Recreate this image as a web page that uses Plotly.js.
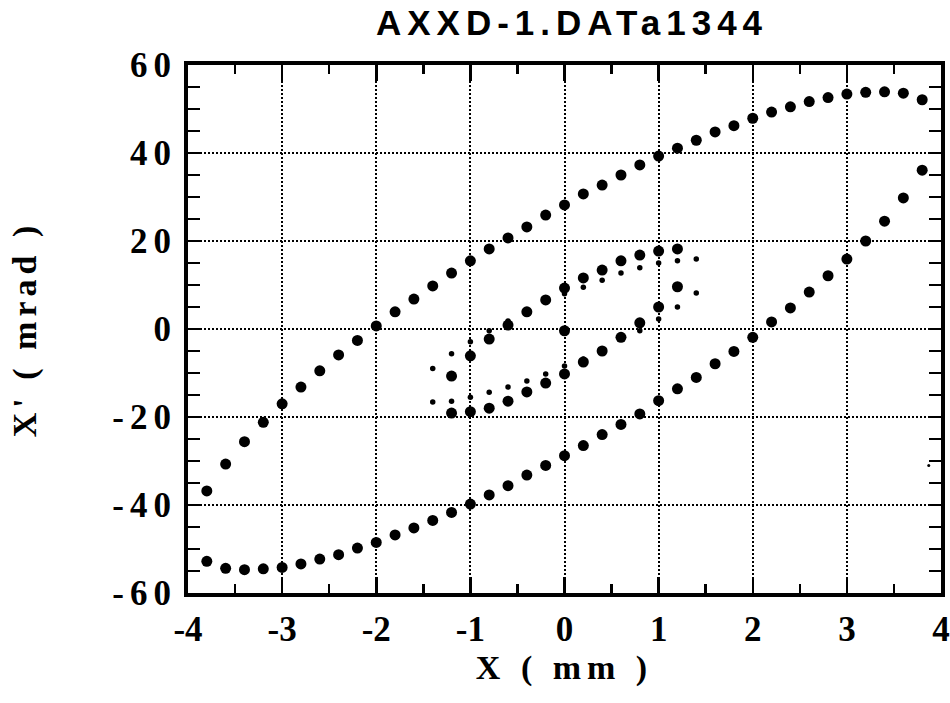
<!DOCTYPE html>
<html>
<head>
<meta charset="utf-8">
<script src="https://cdn.plot.ly/plotly-3.0.1.min.js"></script>
<style>
  html, body { margin: 0; padding: 0; background: #fff; }
  #chart { width: 950px; height: 703px; }
  .gtitle { letter-spacing: 6px; }
  .ytick text { letter-spacing: 6px; }
  .xtitle { letter-spacing: 6px; }
  .ytitle { letter-spacing: 5px; }
</style>
</head>
<body>
<div id="chart"></div>
<script>
// Outer ellipse (large dots)
const outerUpperX = [-3.8,-3.6,-3.4,-3.2,-3.0,-2.8,-2.6,-2.4,-2.2,-2.0,-1.8,-1.6,-1.4,-1.2,-1.0,-0.8,-0.6,-0.4,-0.2,0.0,0.2,0.4,0.6,0.8,1.0,1.2,1.4,1.6,1.8,2.0,2.2,2.4,2.6,2.8,3.0,3.2,3.4,3.6,3.8];
const outerUpperY = [-36.8,-30.7,-25.6,-21.2,-17.0,-13.2,-9.5,-5.9,-2.6,0.7,3.9,6.8,9.8,12.7,15.5,18.2,20.7,23.2,25.9,28.2,30.7,32.7,35.0,37.3,39.3,41.1,42.9,44.8,46.2,47.9,49.3,50.5,51.7,52.6,53.4,53.8,53.9,53.6,52.1];
const outerLowerX = [-3.8,-3.6,-3.4,-3.2,-3.0,-2.8,-2.6,-2.4,-2.2,-2.0,-1.8,-1.6,-1.4,-1.2,-1.0,-0.8,-0.6,-0.4,-0.2,0.0,0.2,0.4,0.6,0.8,1.0,1.2,1.4,1.6,1.8,2.0,2.2,2.4,2.6,2.8,3.0,3.2,3.4,3.6,3.8];
const outerLowerY = [-52.8,-54.4,-54.7,-54.5,-54.2,-53.4,-52.3,-51.3,-49.8,-48.5,-46.8,-45.2,-43.5,-41.7,-39.8,-37.7,-35.6,-33.2,-31.0,-28.8,-26.5,-24.0,-21.7,-19.3,-16.3,-13.6,-11.0,-7.9,-5.1,-1.9,1.6,4.8,8.4,12.1,15.9,20.0,24.5,29.8,36.1];

// Inner ellipse (large dots)
const innerUpperX = [-1.2,-1.0,-0.8,-0.6,-0.4,-0.2,0.0,0.2,0.4,0.6,0.8,1.0,1.2];
const innerUpperY = [-10.7,-6.1,-2.3,0.9,3.9,6.6,9.3,11.6,13.4,15.5,16.8,17.7,18.2];
const innerLowerX = [-1.2,-1.0,-0.8,-0.6,-0.4,-0.2,0.0,0.2,0.4,0.6,0.8,1.0,1.2];
const innerLowerY = [-19.1,-18.8,-18.0,-16.4,-14.3,-12.3,-10.2,-7.5,-5.0,-1.9,1.4,5.0,9.6];
const centreX = [0.0];
const centreY = [-0.4];

// Inner ellipse (small dots)
const smallUpperX = [-1.4,-1.2,-1.0,-0.8,-0.6,0.0,0.2,0.4,0.6,0.8,1.0,1.2,1.4];
const smallUpperY = [-9.0,-5.6,-2.9,-0.4,1.8,8.0,9.5,11.1,12.7,13.9,15.0,15.5,15.9];
const smallLowerX = [-1.4,-1.2,-1.0,-0.8,-0.6,-0.4,-0.2,0.0,0.2,0.8,1.0,1.2,1.4];
const smallLowerY = [-16.6,-16.4,-15.5,-14.4,-13.2,-11.8,-10.2,-8.4,-6.8,-0.4,2.3,5.0,8.2];

// stray speck
const speckX = [3.87];
const speckY = [-31.0];

const xTickVals = [-4,-3,-2,-1,0,1,2,3,4];
const xTickText = ['-4','-3','-2','-1','0','1','2','3','4'];
const yTickVals = [-60,-40,-20,0,20,40,60];
const yTickText = ['-60','-40','-20','0','20','40','60'];

const big = {color:'#000', size:11};
const small = {color:'#000', size:5.5};

const traces = [
  {x: outerUpperX, y: outerUpperY, mode:'markers', type:'scatter', marker: big},
  {x: outerLowerX, y: outerLowerY, mode:'markers', type:'scatter', marker: big},
  {x: innerUpperX, y: innerUpperY, mode:'markers', type:'scatter', marker: big},
  {x: innerLowerX, y: innerLowerY, mode:'markers', type:'scatter', marker: big},
  {x: centreX, y: centreY, mode:'markers', type:'scatter', marker: big},
  {x: smallUpperX, y: smallUpperY, mode:'markers', type:'scatter', marker: small},
  {x: smallLowerX, y: smallLowerY, mode:'markers', type:'scatter', marker: small},
  {x: speckX, y: speckY, mode:'markers', type:'scatter', marker: {color:'#000', size:3}}
];

const serif = '"Liberation Serif", "Times New Roman", serif';
const tickFont = {family:serif, size:35, color:'#000', weight:'bold'};
const titleFont = {family:serif, size:34, color:'#000', weight:'bold'};

const layout = {
  width: 950, height: 703,
  margin: {l:188, r:9, t:65, b:110},
  paper_bgcolor:'#fff', plot_bgcolor:'#fff',
  showlegend:false,
  title: {text:'<b>AXXD-1.DATa1344</b>', font:{family:'"Liberation Sans", Arial, sans-serif', size:35, color:'#000'},
          xref:'paper', x:0.51, xanchor:'center', yref:'container', y:0.968, yanchor:'middle'},
  xaxis: {
    range:[-4,4], tickvals:xTickVals, ticktext:xTickText,
    showline:true, linewidth:4, linecolor:'#000', mirror:'allticks',
    ticks:'inside', ticklen:16, tickwidth:2.5, tickcolor:'#000',
    minor:{dtick:0.5, ticks:'inside', ticklen:9, tickwidth:2.5, tickcolor:'#000', showgrid:false},
    showgrid:true, gridcolor:'#000', gridwidth:2, griddash:'2px,2px',
    zeroline:false, tickfont:tickFont, ticklabelstandoff:2, ticklabeloverflow:'allow',
    title:{text:'X ( mm )', font:titleFont, standoff:0}
  },
  yaxis: {
    range:[-60,60], tickvals:yTickVals, ticktext:yTickText,
    showline:true, linewidth:4, linecolor:'#000', mirror:'allticks',
    ticks:'inside', ticklen:13, tickwidth:2.5, tickcolor:'#000',
    minor:{dtick:5, ticks:'inside', ticklen:12, tickwidth:2.5, tickcolor:'#000', showgrid:false},
    showgrid:true, gridcolor:'#000', gridwidth:2, griddash:'2px,2px',
    zeroline:false, tickfont:tickFont, ticklabelstandoff:0, ticklabeloverflow:'allow',
    title:{text:"X' ( mrad )", font:titleFont, standoff:66}
  }
};

Plotly.newPlot('chart', traces, layout, {displayModeBar:false, staticPlot:true});
</script>
</body>
</html>
